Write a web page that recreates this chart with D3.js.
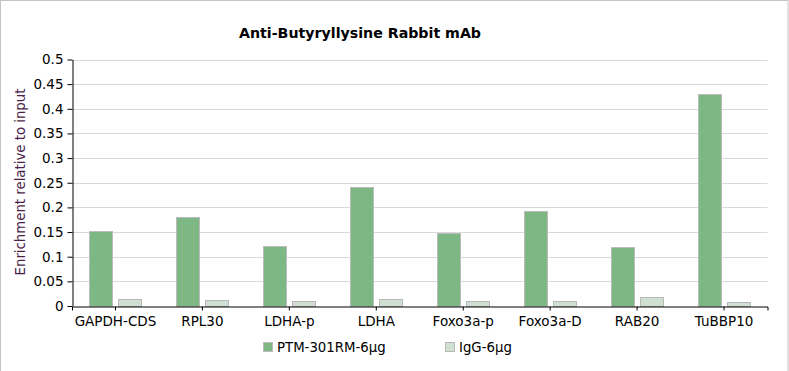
<!DOCTYPE html>
<html lang="en">
<head>
    <meta charset="UTF-8">
    <title>Anti-Butyryllysine Rabbit mAb</title>
    <script src="https://d3js.org/d3.v7.min.js"></script>
    <style>
        body { margin: 0; background: white; font-family: Verdana, "DejaVu Sans", sans-serif; }
        svg { display: block; }
    </style>
</head>
<body>
    <svg id="chart"></svg>

    <script>
        const categories = ["GAPDH-CDS", "RPL30", "LDHA-p", "LDHA", "Foxo3a-p", "Foxo3a-D", "RAB20", "TuBBP10"];
        const seriesNames = ["PTM-301RM-6μg", "IgG-6μg"];
        const ptmValues = [0.152, 0.180, 0.121, 0.241, 0.148, 0.192, 0.119, 0.431];
        const iggValues = [0.014, 0.012, 0.010, 0.014, 0.010, 0.010, 0.018, 0.008];
        const yTicks = [0, 0.05, 0.1, 0.15, 0.2, 0.25, 0.3, 0.35, 0.4, 0.45, 0.5];

        const fills = ["#7db783", "#cfe0d3"];
        const strokes = ["#bcbcbc", "#b8b8b8"];

        const width = 789, height = 371;
        const margin = { left: 72, right: 21, top: 59.5, bottom: 65 };
        const fontSize = "13.5px";

        const svg = d3.select("#chart")
            .attr("width", width)
            .attr("height", height);

        // outer frame
        svg.append("rect")
            .attr("x", 0.5).attr("y", 0.5)
            .attr("width", width - 1.5).attr("height", height + 5)
            .attr("fill", "white")
            .attr("stroke", "#c4c4c4");

        const x0 = d3.scaleBand()
            .domain(categories)
            .range([margin.left, width - margin.right - 0.5])
            .padding(0);

        const x1 = d3.scaleBand()
            .domain(seriesNames)
            .range([0, x0.bandwidth()])
            .paddingInner(0.2)
            .paddingOuter(0.6);

        const y = d3.scaleLinear()
            .domain([0, 0.5])
            .range([306, margin.top]);

        // gridlines
        svg.append("g")
            .selectAll("line")
            .data(yTicks.slice(1))
            .enter().append("line")
            .attr("x1", margin.left)
            .attr("x2", x0.range()[1])
            .attr("y1", d => Math.round(y(d)) + 0.5)
            .attr("y2", d => Math.round(y(d)) + 0.5)
            .attr("stroke", "#d9d9d9");

        // title
        svg.append("text")
            .attr("x", 360)
            .attr("y", 38)
            .attr("text-anchor", "middle")
            .attr("font-size", "14.2px")
            .attr("font-weight", "bold")
            .attr("fill", "#000")
            .text("Anti-Butyryllysine Rabbit mAb");

        // bars
        const series = [ptmValues, iggValues];
        series.forEach((vals, si) => {
            svg.append("g")
                .selectAll("rect")
                .data(categories)
                .enter().append("rect")
                .attr("x", (d, i) => Math.round(x0(d) + x1(seriesNames[si])) + 0.5)
                .attr("y", (d, i) => Math.round(y(vals[i])) + 0.5)
                .attr("width", Math.round(x1.bandwidth()))
                .attr("height", (d, i) => 306 - Math.round(y(vals[i])))
                .attr("fill", fills[si])
                .attr("stroke", strokes[si])
                .attr("stroke-width", 1);
        });

        // y axis
        const yAxis = svg.append("g")
            .attr("transform", `translate(${margin.left + 0.5},0)`)
            .call(d3.axisLeft(y).tickValues(yTicks).tickFormat(d3.format("")).tickSize(5).tickSizeOuter(0).tickPadding(4));
        yAxis.select(".domain").attr("stroke", "#000");
        yAxis.selectAll("text")
            .attr("font-family", "Verdana, 'DejaVu Sans', sans-serif")
            .attr("font-size", fontSize)
            .attr("fill", "#000");

        // x axis
        const xAxis = svg.append("g")
            .attr("transform", "translate(0,306.5)")
            .call(d3.axisBottom(x0).tickSize(4).tickSizeOuter(4).tickPadding(6));
        xAxis.select(".domain").attr("stroke", "#000");
        xAxis.selectAll("text")
            .attr("font-family", "Verdana, 'DejaVu Sans', sans-serif")
            .attr("font-size", fontSize)
            .attr("fill", "#000");

        // y axis title
        svg.append("text")
            .attr("transform", "translate(25,182) rotate(-90)")
            .attr("text-anchor", "middle")
            .attr("font-size", "13.3px")
            .attr("fill", "#4a1f4a")
            .text("Enrichment relative to input");

        // legend
        const legendX = [263, 445];
        const legend = svg.append("g");
        seriesNames.forEach((name, si) => {
            legend.append("rect")
                .attr("x", legendX[si] + 0.5)
                .attr("y", 342.5)
                .attr("width", 9)
                .attr("height", 9)
                .attr("fill", fills[si])
                .attr("stroke", strokes[si]);
            legend.append("text")
                .attr("x", legendX[si] + 14)
                .attr("y", 352)
                .attr("font-size", "13.3px")
                .attr("fill", "#000")
                .text(name);
        });
    </script>
</body>
</html>
